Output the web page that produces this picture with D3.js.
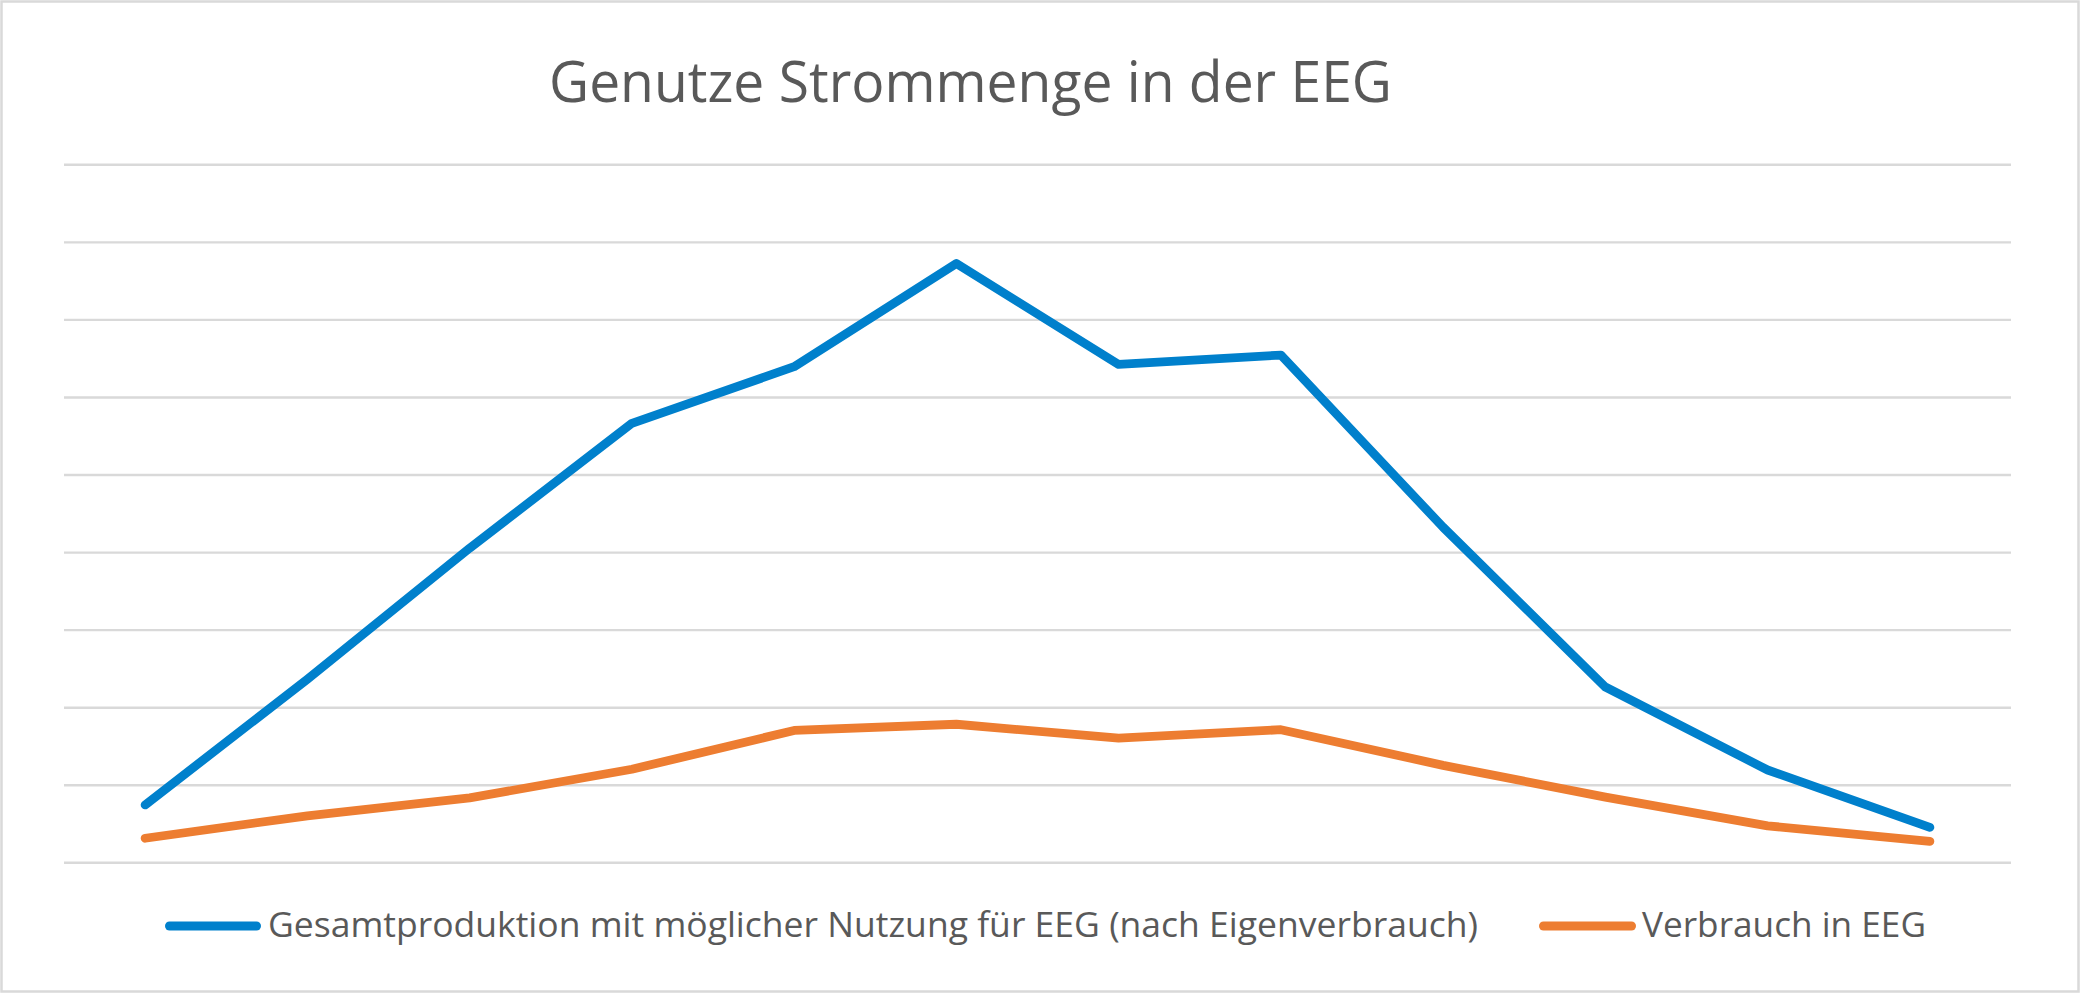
<!DOCTYPE html>
<html>
<head>
<meta charset="utf-8">
<script src="https://cdn.jsdelivr.net/npm/d3@7"></script>
<style>
  html, body { margin: 0; padding: 0; background: #fff; }
  svg { display: block; }
</style>
</head>
<body>
<svg id="chart" width="2081" height="994"></svg>
<script>
// ---- Data ----
const categories = ["1","2","3","4","5","6","7","8","9","10","11","12"];
const gesamtproduktion = [0.74, 2.36, 4.05, 5.66, 6.39, 7.72, 6.42, 6.54, 4.32, 2.26, 1.19, 0.45];
const verbrauch = [0.31, 0.60, 0.83, 1.20, 1.70, 1.78, 1.60, 1.71, 1.25, 0.84, 0.47, 0.27];
const yTicks = [0, 1, 2, 3, 4, 5, 6, 7, 8, 9];
const seriesNames = ["Gesamtproduktion mit möglicher Nutzung für EEG (nach Eigenverbrauch)", "Verbrauch in EEG"];
const seriesColors = ["#0080CC", "#ED7D31"];
const titleText = "Genutze Strommenge in der EEG";

// ---- Layout ----
const W = 2081, H = 994;
const plot = { left: 64, right: 2011, top: 164.3, bottom: 862.3 };
const svg = d3.select("#chart");

svg.append("rect")
  .attr("x", 1.5).attr("y", 1.5)
  .attr("width", W - 4).attr("height", H - 4)
  .attr("fill", "#fff").attr("stroke", "#D9D9D9").attr("stroke-width", 2.5);

const x = d3.scalePoint().domain(categories).range([plot.left, plot.right]).padding(0.5);
const y = d3.scaleLinear().domain([0, 9]).range([plot.bottom, plot.top]);

// gridlines via axis
const gAxis = svg.append("g")
  .attr("transform", `translate(${plot.left},0)`)
  .call(d3.axisLeft(y).tickValues(yTicks).tickSize(-(plot.right - plot.left)).tickFormat(""));
gAxis.select(".domain").remove();
gAxis.selectAll(".tick line").attr("stroke", "#D9D9D9").attr("stroke-width", 2.4);

const line = d3.line().x((d, i) => x(categories[i])).y(d => y(d));

[gesamtproduktion, verbrauch].forEach((s, k) => {
  svg.append("path")
    .datum(s)
    .attr("d", line)
    .attr("fill", "none")
    .attr("stroke", seriesColors[k])
    .attr("stroke-width", 8.8)
    .attr("stroke-linecap", "round")
    .attr("stroke-linejoin", "round");
});

// title
svg.append("text")
  .attr("x", 549).attr("y", 101.7)
  .attr("font-family", "'Open Sans', sans-serif")
  .attr("font-size", 56)
  .attr("fill", "#595959")
  .attr("textLength", 843)
  .attr("lengthAdjust", "spacingAndGlyphs")
  .text(titleText);

// legend
const legend = [
  { x1: 165, x2: 261, tx: 268, tw: 1210 },
  { x1: 1539, x2: 1636, tx: 1642, tw: 284 }
];
legend.forEach((l, k) => {
  svg.append("line")
    .attr("x1", l.x1 + 4.5).attr("x2", l.x2 - 4.5)
    .attr("y1", 926).attr("y2", 926)
    .attr("stroke", seriesColors[k]).attr("stroke-width", 9)
    .attr("stroke-linecap", "round");
  svg.append("text")
    .attr("x", l.tx).attr("y", 937.3)
    .attr("font-family", "'Open Sans', sans-serif")
    .attr("font-size", 35)
    .attr("fill", "#595959")
    .attr("textLength", l.tw)
    .attr("lengthAdjust", "spacingAndGlyphs")
    .text(seriesNames[k]);
});
</script>
</body>
</html>
